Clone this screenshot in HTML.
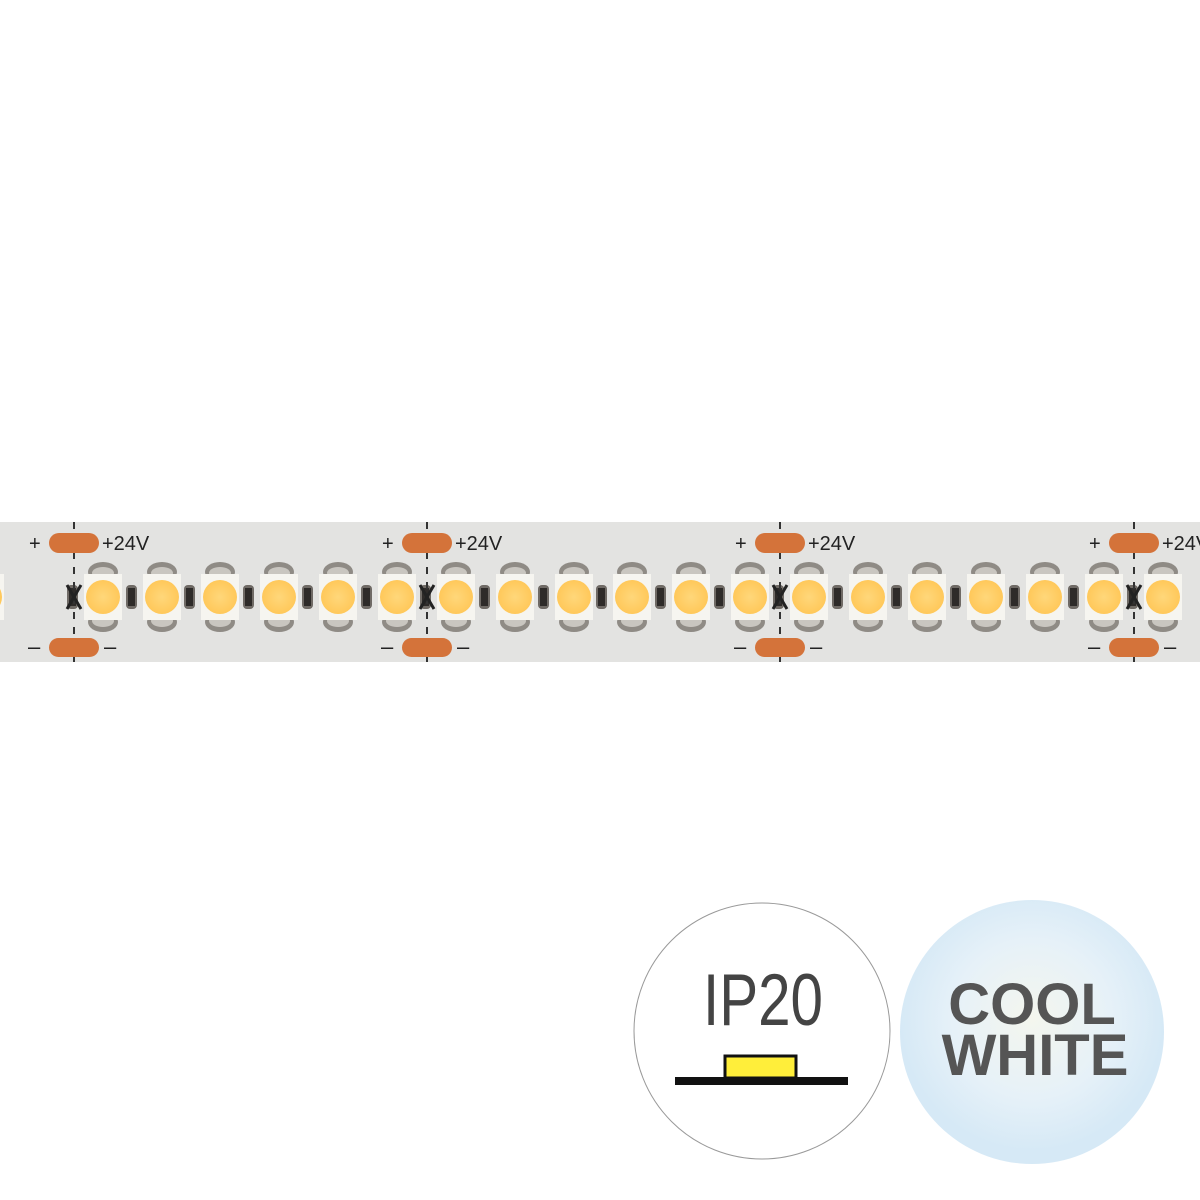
<!DOCTYPE html>
<html><head><style>
body{margin:0;width:1200px;height:1200px;background:#fff;position:relative;overflow:hidden;font-family:"Liberation Sans",sans-serif}
</style></head><body>
<svg width="1200" height="1200" style="position:absolute;left:0;top:0">
<defs>
<radialGradient id="cw" cx="50%" cy="45%" r="50%">
<stop offset="0" stop-color="#f4f6ee"/><stop offset="0.6" stop-color="#e6f1f8"/><stop offset="1" stop-color="#d6e9f6"/>
</radialGradient>
<radialGradient id="led" cx="50%" cy="50%" r="50%">
<stop offset="0" stop-color="#ffd77a"/><stop offset="1" stop-color="#ffc85a"/>
</radialGradient>
<g id="u">
<ellipse cx="0" cy="-25" rx="15" ry="10" fill="#8f8b85"/>
<ellipse cx="0" cy="25" rx="15" ry="10" fill="#8f8b85"/>
<ellipse cx="0" cy="-24" rx="11" ry="6" fill="#c9c6c0"/>
<ellipse cx="0" cy="24" rx="11" ry="6" fill="#c9c6c0"/>
<rect x="-19" y="-23" width="38" height="46" fill="#f6f5f0"/>
<circle cx="0" cy="0" r="17" fill="url(#led)"/>
<rect x="-36" y="-12" width="11" height="24" rx="4" fill="#6f6a65"/>
<rect x="-34" y="-9" width="7" height="18" fill="#2e2b29"/>
</g>
<g id="cut">
<line x1="0" y1="-75" x2="0" y2="65" stroke="#333" stroke-width="2" stroke-dasharray="7 8"/>
<rect x="-25" y="-64" width="50" height="20" rx="10" fill="#d4733a"/>
<rect x="-25" y="41" width="50" height="19" rx="9.5" fill="#d4733a"/>
<text x="-45" y="-47" font-size="20" fill="#222">+</text>
<text x="28" y="-47" font-size="20" fill="#222">+24V</text>
<text x="-46" y="57" font-size="22" fill="#222">–</text>
<text x="30" y="57" font-size="22" fill="#222">–</text>
<line x1="-7" y1="-12" x2="7" y2="12" stroke="#222" stroke-width="3"/>
<line x1="7" y1="-12" x2="-7" y2="12" stroke="#222" stroke-width="3"/>
</g>
</defs>
<rect x="0" y="522" width="1200" height="140" fill="#e3e3e1"/>
<g transform="translate(0,597)">
<use href="#u" x="-15"/><use href="#u" x="103"/><use href="#u" x="162"/><use href="#u" x="220"/><use href="#u" x="279"/><use href="#u" x="338"/><use href="#u" x="397"/>
<use href="#u" x="456"/><use href="#u" x="515"/><use href="#u" x="574"/><use href="#u" x="632"/><use href="#u" x="691"/><use href="#u" x="750"/>
<use href="#u" x="809"/><use href="#u" x="868"/><use href="#u" x="927"/><use href="#u" x="986"/><use href="#u" x="1045"/><use href="#u" x="1104"/><use href="#u" x="1163"/>
<use href="#cut" x="74"/><use href="#cut" x="427"/><use href="#cut" x="780"/><use href="#cut" x="1134"/>
</g>
<circle cx="762" cy="1031" r="128" fill="#fff" stroke="#999" stroke-width="1"/>
<text x="763" y="1025" font-size="73" fill="#444" text-anchor="middle" textLength="120" lengthAdjust="spacingAndGlyphs">IP20</text>
<rect x="725" y="1056" width="71" height="22" fill="#ffee3a" stroke="#111" stroke-width="3"/>
<rect x="675" y="1077" width="173" height="8" fill="#111"/>
<circle cx="1032" cy="1032" r="132" fill="url(#cw)"/>
<text x="1032" y="1024" font-size="58" font-weight="bold" fill="#555" text-anchor="middle">COOL</text>
<text x="1035" y="1075" font-size="58" font-weight="bold" fill="#555" text-anchor="middle">WHITE</text>
</svg>
</body></html>
